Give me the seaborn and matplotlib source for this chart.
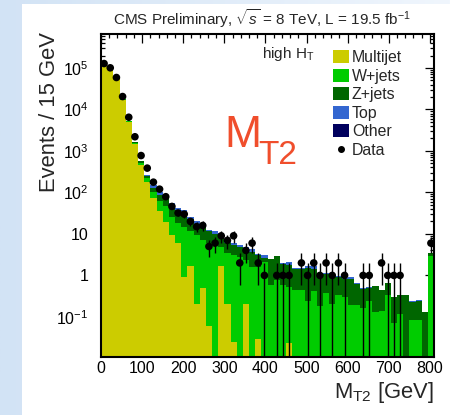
import numpy as np
import pandas as pd
import matplotlib
matplotlib.use("Agg")
import matplotlib.pyplot as plt
import seaborn as sns
from matplotlib.patches import Patch, Rectangle
from matplotlib.lines import Line2D
from matplotlib.colors import LinearSegmentedColormap
from matplotlib.ticker import MultipleLocator, FixedLocator, FixedFormatter, LogLocator, NullFormatter

# ---- binning: 15 GeV bins from 0 to 810 GeV ----
edges = np.arange(0, 811, 15)
centers = edges[:-1] + 7.5

# ---- expected events per bin, by process ----
multijet = [1.45e5, 1.1e5, 5.5e4, 1.72e4, 5.0e3, 1480, 450, 178, 72, 35,
            19, 9.5, 6, 0.93, 1.7, 0.21, 0.49, 0.06, 0, 1.7,
            0.21, 0.025, 0, 0.21, 0, 0.03, 0, 0, 0, 0,
            0.023, 0, 0, 0, 0, 0, 0, 0, 0, 0,
            0, 0, 0, 0, 0, 0, 0, 0, 0, 0,
            0, 0, 0, 0]
wjets = [1200, 900, 700, 450, 250, 110, 75, 45, 33, 28,
         27, 16.5, 12, 14, 9.8, 9.3, 6.7, 6, 6, 3.2,
         3.2, 3.1, 2.8, 2.1, 1.6, 1.6, 2.1, 0.6, 0.78, 0.6,
         0.5, 0.45, 0.45, 0.24, 0.43, 0.18, 0.37, 0.2, 0.33, 0.31,
         0.19, 0.19, 0.16, 0.24, 0.13, 0.14, 0.34, 0.07, 0.12, 0.01,
         0.085, 0.085, 0.01, 2.95]
zjets = [400, 300, 250, 150, 100, 45, 35, 25, 26, 26,
         30, 22, 20, 18, 11, 8, 8.8, 5.5, 4, 4.7,
         2.8, 2.3, 2.0, 2.0, 2.1, 1.4, 0.6, 1.85, 2.1, 1.3,
         1.27, 1.0, 1.0, 1.24, 1.0, 0.73, 0.73, 0.7, 0.57, 0.52,
         0.64, 0.42, 0.32, 0.27, 0.42, 0.30, 0.32, 0.23, 0.21, 0.32,
         0.15, 0.16, 0.12, 0.45]
top = [300, 250, 200, 120, 60, 25, 15, 17, 19, 11,
       7, 7, 4, 5, 3.4, 2.5, 2, 1.1, 1.5, 1.2,
       1.0, 0.6, 0.6, 0.5, 0.6, 0.3, 0.4, 0.05, 0.07, 0.05,
       0.3, 0.03, 0.03, 0.25, 0.3, 0.02, 0.02, 0.03, 0.08, 0.02,
       0.1, 0.06, 0.01, 0.01, 0.01, 0.01, 0.01, 0.01, 0.01, 0.01,
       0.005, 0.015, 0, 0]
other = [60, 45, 30, 12, 5, 2, 1, 0.5, 0.3, 0.2,
         0.15, 0.1, 0.08, 0.05, 0.04, 0.03, 0.02, 0.02, 0.01, 0.01,
         0, 0, 0, 0, 0, 0, 0, 0, 0, 0,
         0, 0, 0, 0, 0, 0, 0, 0, 0, 0,
         0, 0, 0, 0, 0, 0, 0, 0, 0, 0,
         0, 0, 0, 0]

# ---- observed events per bin ----
data = [128000, 101000, 59000, 20500, 6500, 2200, 775, 386, 177, 120,
        79, 46, 32, 30, 20, 15, 16, 5, 6, 9,
        7, 9, 2, 4, 6, 2, 1, 0, 1, 1,
        1, 0, 2, 1, 2, 1, 2, 1, 2, 1,
        0, 0, 1, 1, 0, 2, 1, 1, 1, 0,
        0, 0, 0, 6]

processes = ["Multijet", "W+jets", "Z+jets", "Top", "Other"]
colors = {"Multijet": "#cccc00", "W+jets": "#00cc00", "Z+jets": "#006600",
          "Top": "#3366d0", "Other": "#00005e"}

sns.set_theme(style="ticks")
plt.rcParams["font.family"] = ["Liberation Sans", "DejaVu Sans"]
plt.rcParams["mathtext.fontset"] = "custom"
plt.rcParams["mathtext.rm"] = "Liberation Sans"
plt.rcParams["mathtext.it"] = "Liberation Sans:italic"
plt.rcParams["mathtext.bf"] = "Liberation Sans:bold"

W, H = 450, 415
fig = plt.figure(figsize=(W / 100, H / 100), dpi=100)

# pale blue backdrop with a white panel
bg = fig.add_axes([0, 0, 1, 1], zorder=-10)
grad = np.linspace(0, 1, 256)[None, :]
bg.imshow(grad, aspect="auto", extent=[0, 1, 0, 1],
          cmap=LinearSegmentedColormap.from_list("bg", ["#d2e3f5", "#f0f6fd"]))
bg.add_patch(Rectangle((22 / W, 0), 1, 1 - 4 / H, facecolor="white", edgecolor="none"))
bg.set_xlim(0, 1)
bg.set_ylim(0, 1)
bg.axis("off")

ax = fig.add_axes([101 / W, 58 / H, 333 / W, 323 / H])

df = pd.DataFrame({
    "mt2": np.tile(centers, len(processes)),
    "events": np.concatenate([multijet, wjets, zjets, top, other]),
    "process": np.repeat(processes, len(centers)),
})

sns.histplot(data=df, x="mt2", weights="events", hue="process",
             hue_order=processes[::-1], multiple="stack", bins=edges.tolist(),
             palette=colors, element="bars", fill=True, linewidth=0,
             alpha=1, legend=False, ax=ax)

# observed data with Poisson errors
data = np.asarray(data, dtype=float)
obs = data > 0
err = np.sqrt(data[obs])
low = np.clip(data[obs] - err, 1e-4, None)
ax.vlines(centers[obs], low, data[obs] + err, color="black", linewidth=1.0, zorder=4)
sns.scatterplot(x=centers[obs], y=data[obs], color="black", s=30, edgecolor="none",
                zorder=5, ax=ax, legend=False)

ax.set_yscale("log")
ax.set_xlim(0, 810)
ax.set_ylim(0.0108, 6.6e5)

ax.xaxis.set_major_locator(MultipleLocator(100))
ax.xaxis.set_minor_locator(MultipleLocator(20))
ytick_vals = [0.1, 1, 10, 100, 1e3, 1e4, 1e5]
ytick_labels = [r"$10^{-1}$", "1", "10", r"$10^{2}$", r"$10^{3}$", r"$10^{4}$", r"$10^{5}$"]
ax.yaxis.set_major_locator(FixedLocator(ytick_vals))
ax.yaxis.set_major_formatter(FixedFormatter(ytick_labels))
ax.yaxis.set_minor_locator(LogLocator(base=10, subs=np.arange(2, 10), numticks=20))
ax.yaxis.set_minor_formatter(NullFormatter())

ax.tick_params(which="both", direction="in", top=True, right=True, colors="black",
               labelsize=11.5)
ax.tick_params(which="major", length=6.5, width=0.9)
ax.tick_params(which="minor", length=3.2, width=0.9)
ax.tick_params(axis="y", pad=9)
ax.tick_params(axis="x", pad=3)
for s in ax.spines.values():
    s.set_linewidth(1.5)
    s.set_color("black")
    s.set_zorder(6)

ax.set_xlabel(r"$\mathregular{M_{T2}}$ [GeV]", fontsize=15.8, loc="right")
ax.xaxis.set_label_coords(1.0, -23 / 323)
ax.xaxis.label.set(ha="right", va="top")
ax.set_ylabel("Events / 15 GeV", fontsize=15.8, loc="top")
ax.yaxis.set_label_coords((50 - 101) / 333, 1 + 2 / 323)
ax.yaxis.label.set(ha="center", va="top", rotation_mode="default")

fig.text(262 / W, 1 - 19 / H, r"CMS Preliminary, $\sqrt{s}$ = 8 TeV, L = 19.5 fb$^{-1}$",
         ha="center", va="center", fontsize=11)

ax.text((262 - 101) / 333, (357 - 54) / 323, r"high H$_\mathregular{T}$",
        transform=ax.transAxes, ha="left", va="center", fontsize=11)

# large variable name in the empty upper area
ax.text((224 - 101) / 333, (357 - 146.7) / 323, "M",
        transform=ax.transAxes, ha="left", va="baseline", fontsize=32,
        color="#f04e2c")
ax.text((258 - 101) / 333, (357 - 164) / 323, "T2",
        transform=ax.transAxes, ha="left", va="baseline", fontsize=24,
        color="#f04e2c")

handles = [Patch(facecolor=colors[p], edgecolor="none") for p in processes]
handles.append(Line2D([], [], marker="o", linestyle="none", color="black", markersize=4))
ax.legend(handles, processes + ["Data"], loc="upper left",
          bbox_to_anchor=((333 - 101) / 333, (357 - 50) / 323),
          frameon=False, fontsize=11.4, handlelength=1.0, handleheight=0.9,
          handletextpad=0.2, labelspacing=0.22, borderpad=0, borderaxespad=0)

fig.savefig("out.png", dpi=100)
